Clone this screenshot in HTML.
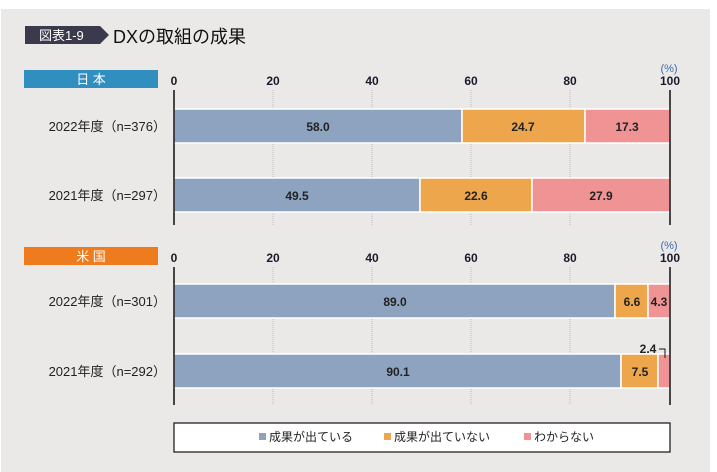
<!DOCTYPE html><html><head><meta charset="utf-8"><style>
body{margin:0;background:#fff}
svg{display:block}
text{font-family:"Liberation Sans","Noto Sans CJK JP",sans-serif}
</style></head><body>
<svg width="717" height="472" xmlns="http://www.w3.org/2000/svg">
<rect x="1" y="9" width="709" height="463" fill="#ebe8e8"/>
<polygon points="25,26 100,26 109,35 100,44 25,44" fill="#3a3a4c"/>
<text x="39" y="40" font-size="13" fill="#fff">図表1-9</text>
<text x="113" y="43" font-size="18" fill="#111">DXの取組の成果</text>
<g font-size="12" fill="#222" text-anchor="middle">
<!-- Japan -->
<rect x="24" y="70" width="134" height="18" fill="#318fbf"/>
<text x="91" y="84" fill="#fff" font-size="13">日 本</text>
<g fill="#1a1a2a" font-weight="bold"><text x="174" y="85">0</text><text x="273" y="85">20</text><text x="372" y="85">40</text><text x="471" y="85">60</text><text x="570" y="85">80</text><text x="670" y="85">100</text></g>
<text x="669" y="72" font-size="11" fill="#3a6ea8">(%)</text>
<g stroke="#bbb" stroke-dasharray="1,1"><line x1="273" y1="90" x2="273" y2="225"/><line x1="372" y1="90" x2="372" y2="225"/><line x1="471" y1="90" x2="471" y2="225"/><line x1="570" y1="90" x2="570" y2="225"/></g>
<g stroke="#fff" stroke-width="1.5">
<rect x="174" y="109" width="288" height="34" fill="#8da3bf"/><rect x="462" y="109" width="123" height="34" fill="#eea64c"/><rect x="585" y="109" width="85" height="34" fill="#f09394"/>
<rect x="174" y="178" width="246" height="34" fill="#8da3bf"/><rect x="420" y="178" width="112" height="34" fill="#eea64c"/><rect x="532" y="178" width="138" height="34" fill="#f09394"/>
</g>
<line x1="174" y1="90" x2="174" y2="225" stroke="#111" stroke-width="1.5"/>
<line x1="670" y1="90" x2="670" y2="225" stroke="#111" stroke-width="1.5"/>
<g font-weight="bold" font-size="12"><text x="318" y="131">58.0</text><text x="523" y="131">24.7</text><text x="627" y="131">17.3</text>
<text x="297" y="200">49.5</text><text x="476" y="200">22.6</text><text x="601" y="200">27.9</text></g>
<text x="166" y="131" text-anchor="end" font-size="13">2022年度（n=376）</text>
<text x="166" y="200" text-anchor="end" font-size="13">2021年度（n=297）</text>
<!-- US -->
<rect x="24" y="247" width="134" height="18" fill="#ee7b1d"/>
<text x="91" y="261" fill="#fff" font-size="13">米 国</text>
<g fill="#1a1a2a" font-weight="bold"><text x="174" y="262">0</text><text x="273" y="262">20</text><text x="372" y="262">40</text><text x="471" y="262">60</text><text x="570" y="262">80</text><text x="670" y="262">100</text></g>
<text x="669" y="249" font-size="11" fill="#3a6ea8">(%)</text>
<g stroke="#bbb" stroke-dasharray="1,1"><line x1="273" y1="267" x2="273" y2="405"/><line x1="372" y1="267" x2="372" y2="405"/><line x1="471" y1="267" x2="471" y2="405"/><line x1="570" y1="267" x2="570" y2="405"/></g>
<g stroke="#fff" stroke-width="1.5">
<rect x="174" y="284" width="441" height="34" fill="#8da3bf"/><rect x="615" y="284" width="33" height="34" fill="#eea64c"/><rect x="648" y="284" width="22" height="34" fill="#f09394"/>
<rect x="174" y="354" width="447" height="34" fill="#8da3bf"/><rect x="621" y="354" width="37" height="34" fill="#eea64c"/><rect x="658" y="354" width="12" height="34" fill="#f09394"/>
</g>
<line x1="174" y1="267" x2="174" y2="405" stroke="#111" stroke-width="1.5"/>
<line x1="670" y1="267" x2="670" y2="405" stroke="#111" stroke-width="1.5"/>
<polyline points="659,349 665,349 665,358" fill="none" stroke="#111"/>
<g font-weight="bold" font-size="12"><text x="395" y="306">89.0</text><text x="632" y="306">6.6</text><text x="659" y="306">4.3</text>
<text x="398" y="376">90.1</text><text x="640" y="376">7.5</text><text x="648" y="353">2.4</text></g>
<text x="166" y="306" text-anchor="end" font-size="13">2022年度（n=301）</text>
<text x="166" y="376" text-anchor="end" font-size="13">2021年度（n=292）</text>
</g>
<rect x="174" y="423" width="496" height="29" fill="#fff" stroke="#111" stroke-width="1.2"/>
<g font-size="12" fill="#222">
<rect x="259" y="433" width="7" height="7" fill="#8da3bf"/><text x="269" y="441">成果が出ている</text>
<rect x="384" y="433" width="7" height="7" fill="#eea64c"/><text x="394" y="441">成果が出ていない</text>
<rect x="524" y="433" width="7" height="7" fill="#f09394"/><text x="534" y="441">わからない</text>
</g>
</svg>
</body></html>
